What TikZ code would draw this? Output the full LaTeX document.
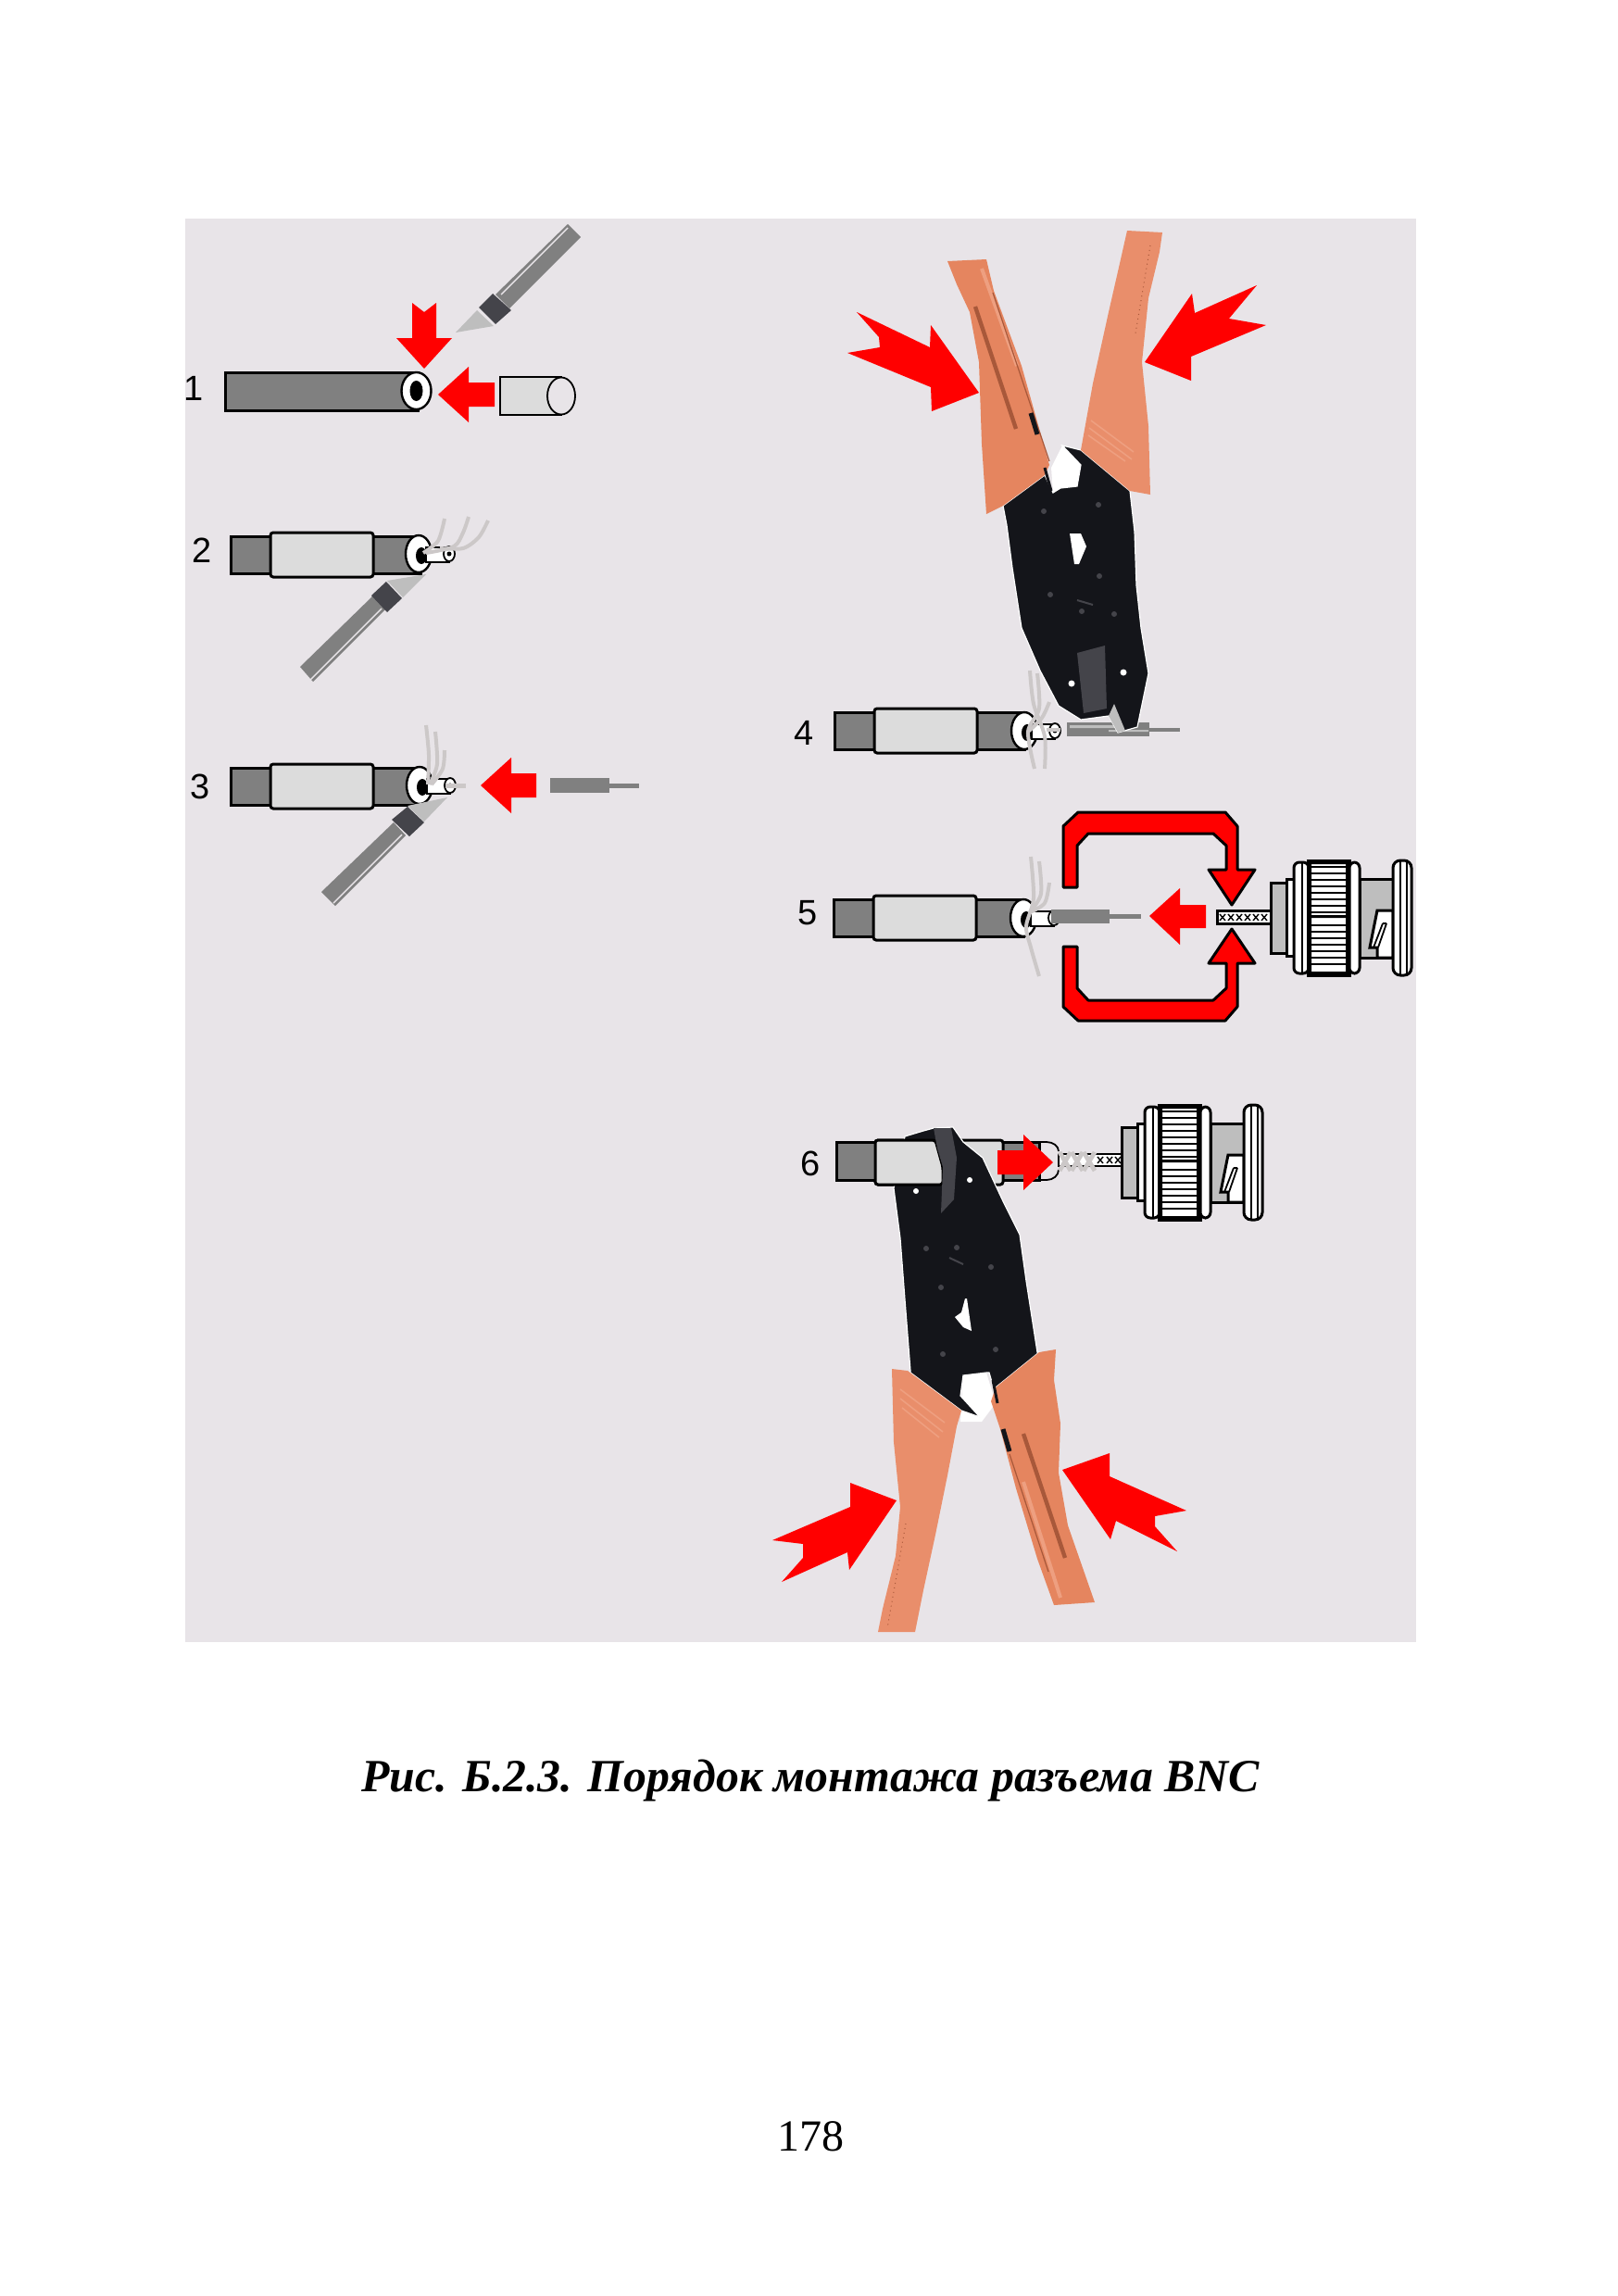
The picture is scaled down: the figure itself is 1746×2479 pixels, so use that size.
\documentclass[tikz,border=0pt]{standalone}
\usepackage{fontspec}
\setmainfont{Liberation Serif}
\newfontfamily\digitfont{Liberation Sans}
\definecolor{panelbg}{HTML}{E8E4E8}
\definecolor{redmark}{HTML}{FF0000}
\definecolor{cablegray}{HTML}{808080}
\definecolor{jacket}{HTML}{DCDCDC}
\definecolor{bladegray}{HTML}{BEBEBE}
\definecolor{collar}{HTML}{44444A}
\definecolor{wiregray}{HTML}{CCC8C8}
\definecolor{plierblack}{HTML}{14151A}
\definecolor{grip}{HTML}{E5855F}
\definecolor{gripb}{HTML}{E98E6B}
\definecolor{gripc}{HTML}{EE9F80}
\definecolor{gripdark}{HTML}{A8583A}
\tikzset{
  outl/.style={draw=black,line width=1.5pt},
  thinl/.style={draw=black,line width=0.9pt},
  redshape/.style={fill=redmark},
  graybar/.style={fill=cablegray},
  wire/.style={draw=wiregray,line width=2pt,line join=round},
  digit/.style={font=\digitfont\fontsize{19}{19}\selectfont,inner sep=0pt},
  handle/.style={fill=cablegray},
  knifecollar/.style={fill=collar},
  knifeblade/.style={fill=bladegray},
  pliers/.style={fill=plierblack,draw=white,line width=0.6pt},
  pliergray/.style={fill=collar},
  halo/.style={fill=white},
  cableparts/.pic={
    \filldraw[outl,fill=cablegray] (0,-20) rectangle (43,20);
    \filldraw[outl,fill=cablegray] (153,-20) rectangle (205,20);
    \filldraw[outl,fill=jacket,rounded corners=1.5pt] (43,-24) rectangle (154,24);
  },
  cableend/.pic={
    \filldraw[thinl,fill=white,line width=1.2pt] (0,0) ellipse [x radius=14,y radius=20];
    \fill[black] (3,2) ellipse [x radius=6,y radius=9];
    \filldraw[thinl,fill=white] (8,-7) rectangle (33,9);
    \filldraw[thinl,fill=white] (33,0) ellipse [x radius=6,y radius=8];
    \fill[black] (33,0) circle [radius=2.5];
  },
  connector/.pic={
    \filldraw[outl,fill=bladegray] (0,-38) rectangle (17,38);
    \filldraw[outl,fill=white] (17,-42) rectangle (25,41);
    \filldraw[outl,fill=bladegray] (96,-42) -- (132,-42) -- (132,43) -- (96,43) -- cycle;
    \filldraw[outl,fill=white] (115,-8) -- (132,-8) -- (132,43) -- (115,43) -- (115,32) -- (107,32) -- cycle;
    \draw[thinl] (125,6) -- (116,32) (121,6) -- (111,32) (121,6) -- (125,6);
    \filldraw[outl,fill=white,rounded corners=3pt] (25,-60) rectangle (41,60);
    \draw[thinl] (34,-60) -- (34,60);
    \filldraw[outl,fill=white] (40,-62) rectangle (85,62);
    \foreach \yy in {-55,-48,-41,-34,-27,-20,-13,-6,8,15,22,29,36,43,50}{
      \draw[black,line width=0.8pt] (40,\yy) -- (85,\yy);
    }
    \fill[black] (40,-62) rectangle (85,-58) (40,-3) rectangle (85,0) (40,58) rectangle (85,62);
    \fill[black] (40,-62) rectangle (44,62) (81,-62) rectangle (85,62);
    \filldraw[outl,fill=white,rounded corners=3pt] (85,-60) rectangle (96,60);
    \filldraw[outl,fill=white,rounded corners=4pt] (132,-62) rectangle (152,62);
    \draw[thinl] (140,-62) -- (140,62) (147,-62) -- (147,62);
  },
  gripbg/.style={fill=grip},
  gripbh/.style={fill=gripb}
}
\begin{document}
\begin{tikzpicture}[x=0.5pt,y=-0.5pt,line join=miter]
\useasboundingbox (0,0) rectangle (1746,2479);
\fill[white] (0,0) rectangle (1746,2479);
\fill[panelbg] (200,236) rectangle (1529,1773);

% ---- step 1
\node[digit] (n1) at (209,419) {1};
\filldraw[outl,fill=cablegray] (243,402) rectangle (451,443);
\filldraw[thinl,fill=white,line width=1.2pt] (449.5,422) ellipse [x radius=16,y radius=20];
\fill[black] (449.5,422) ellipse [x radius=7,y radius=11];
\filldraw[thinl,fill=jacket] (540,407) rectangle (606,448);
\filldraw[thinl,fill=panelbg] (606,427.5) ellipse [x radius=15,y radius=20];
\fill[redshape] (445,327) -- (458,337) -- (471,327) -- (471,365) -- (488,365) -- (458,398) -- (428,365) -- (445,365) -- cycle;
\fill[redshape] (473,426) -- (506,396) -- (506,413) -- (534,413) -- (534,439) -- (506,439) -- (506,456) -- cycle;
\fill[handle] (613,242) -- (627,256) -- (550,333) -- (535,318) -- cycle;
\draw[panelbg,line width=0.7pt] (613,246) -- (541,318);
\fill[knifeblade] (515,335) -- (533,352) -- (492,359) -- cycle;
\fill[knifecollar] (532,317) -- (552,335) -- (535,350) -- (517,332) -- cycle;

% ---- step 2
\node[digit] (n2) at (218,594) {2};
\pic at (249,599) {cableparts};
\pic at (452,598) {cableend};
\draw[wire] plot[smooth] coordinates {(457,597) (473,584) (480,560)};
\draw[wire] plot[smooth] coordinates {(460,597) (490,590) (500,575) (506,558)};
\draw[wire] plot[smooth] coordinates {(475,592) (500,592) (517,580) (527,562)};
\fill[handle] (324,720) -- (338,736) -- (417,657) -- (403,643) -- cycle;
\draw[panelbg,line width=0.7pt] (335,734) -- (412,657);
\fill[knifeblade] (418,627) -- (460,620) -- (435,645) -- cycle;
\fill[knifecollar] (417,628) -- (434,646) -- (418,661) -- (401,643) -- cycle;

% ---- step 3
\node[digit] (n3) at (216,849) {3};
\pic at (249,849) {cableparts};
\pic at (453,848) {cableend};
\draw[wire] plot[smooth] coordinates {(462,847) (463,815) (460,783)};
\draw[wire] plot[smooth] coordinates {(464,847) (472,825) (470,790)};
\draw[wire] plot[smooth] coordinates {(466,847) (478,830) (480,810)};
\draw[wire,line width=2.5pt] (481,848) -- (503,848);
\fill[redshape] (519,848) -- (552,818) -- (552,835) -- (579,835) -- (579,861) -- (552,861) -- (552,878) -- cycle;
\fill[graybar] (594,840) rectangle (658,856);
\fill[graybar] (658,846) rectangle (690,851);
\fill[handle] (347,963) -- (362,978) -- (438,902) -- (425,888) -- cycle;
\draw[panelbg,line width=0.7pt] (360,975) -- (434,901);
\fill[knifeblade] (440,870) -- (483,861) -- (458,887) -- cycle;
\fill[knifecollar] (440,871) -- (458,888) -- (442,903) -- (423,885) -- cycle;

% ---- step 4
\node[digit] (n4) at (868,791) {4};
\pic at (901,789) {cableparts};
\pic at (1106,789) {cableend};
\draw[wire] plot[smooth] coordinates {(1112,724) (1116,760) (1128,795) (1128,830)};
\draw[wire] plot[smooth] coordinates {(1120,727) (1122,765) (1110,790) (1117,830)};
\draw[wire] plot[smooth] coordinates {(1133,758) (1125,775) (1110,790)};
\draw[wire,line width=2pt] (1130,788) -- (1145,788);
\fill[graybar] (1152,780) rectangle (1241,795);
\fill[graybar] (1241,786) rectangle (1274,790);
\fill[bladegray] (1155,783) rectangle (1205,786) (1197,788) rectangle (1240,790);
\fill[halo] (1135,505) -- (1147,481) -- (1167,502) -- (1163,525) -- (1145,527) -- (1137,532) -- cycle;
\filldraw[pliers] (1083,546) -- (1128,513) -- (1137,532) -- (1145,527) -- (1163,525) -- (1167,502) -- (1147,481) -- (1167,486) -- (1220,530) -- (1225,574) -- (1227,632) -- (1232,678) -- (1240,727) -- (1228,785) -- (1207,791) -- (1197,773) -- (1167,777) -- (1143,762) -- (1123,724) -- (1103,678) -- (1093,613) -- (1087,567) -- cycle;
\fill[pliergray] (1163,705) -- (1193,697) -- (1195,765) -- (1170,770) -- cycle;
\fill[bladegray] (1197,773) -- (1207,791) -- (1215,789) -- (1203,760) -- cycle;
\fill[white] (1155,576) -- (1167,576) -- (1173,590) -- (1165,609) -- (1160,609) -- cycle;
\fill[white] (1157,738) circle [radius=3.5] (1213,726) circle [radius=3.5];
\fill[collar] (1187,622) circle [radius=3] (1134,642) circle [radius=3] (1203,663) circle [radius=3] (1168,660) circle [radius=3] (1186,545) circle [radius=3] (1127,552) circle [radius=3];
\draw[collar,line width=1pt] (1163,648) -- (1180,653);
\fill[gripbg] (1023,282) -- (1065,280) -- (1073,314) -- (1103,395) -- (1133,502) -- (1128,513) -- (1083,546) -- (1065,555) -- (1060,479) -- (1057,391) -- (1047,337) -- (1033,307) -- cycle;
\draw[gripc,line width=2pt] (1060,290) -- (1098,395);
\draw[gripdark,line width=2.2pt] (1053,331) -- (1097,463);
\draw[gripdark,line width=0.6pt] (1072,316) -- (1133,498);
\draw[plierblack,line width=2.5pt] (1113,446) -- (1120,469);
\draw[plierblack,line width=1.5pt] (1128,505) -- (1135,530);
\fill[gripbh] (1217,249) -- (1255,251) -- (1252,272) -- (1240,322) -- (1233,391) -- (1240,460) -- (1242,534) -- (1220,530) -- (1167,486) -- (1180,414) -- (1197,337) -- (1210,280) -- cycle;
\draw[gripc,line width=0.8pt] (1175,470) -- (1215,498) (1176,462) -- (1222,496) (1178,454) -- (1224,488);
\draw[gripdark,line width=0.5pt,dotted] (1242,265) -- (1226,360);
\fill[redshape] (925,337) -- (1004,375) -- (1005,351) -- (1057,424) -- (1006,444) -- (1005,418) -- (915,381) -- (950,375) -- (949,364) -- cycle;
\fill[redshape] (1236,391) -- (1287,317) -- (1290,338) -- (1357,308) -- (1327,344) -- (1367,351) -- (1286,385) -- (1286,411) -- cycle;

% ---- step 5
\node[digit] (n5) at (872,986) {5};
\pic at (900,991) {cableparts};
\pic at (1105,991) {cableend};
\draw[wire] plot[smooth] coordinates {(1113,925) (1116,970) (1108,1000) (1113,1023) (1122,1054)};
\draw[wire] plot[smooth] coordinates {(1122,930) (1124,965) (1112,985)};
\draw[wire] plot[smooth] coordinates {(1133,953) (1128,975) (1112,985)};
\fill[graybar] (1135,982) rectangle (1198,997);
\fill[graybar] (1198,987) rectangle (1232,992);
\fill[redshape] (1241,989) -- (1274,959) -- (1274,977) -- (1302,977) -- (1302,1002) -- (1274,1002) -- (1274,1020) -- cycle;
\filldraw[outl,fill=redmark,line join=round] (1148,958) -- (1148,892) -- (1164,877) -- (1323,877) -- (1336,892) -- (1336,939) -- (1355,939) -- (1330,977) -- (1305,939) -- (1324,939) -- (1324,913) -- (1310,900) -- (1175,900) -- (1163,913) -- (1163,958) -- cycle;
\filldraw[outl,fill=redmark,line join=round] (1148,1022) -- (1148,1087) -- (1164,1102) -- (1323,1102) -- (1336,1087) -- (1336,1040) -- (1355,1040) -- (1330,1003) -- (1305,1040) -- (1324,1040) -- (1324,1067) -- (1310,1080) -- (1175,1080) -- (1163,1067) -- (1163,1022) -- cycle;
\filldraw[outl,fill=white] (1314,983) rectangle (1372,997);
\foreach \xx in {1320,1329,1338,1347,1356,1365}{
  \draw[black,line width=0.7pt] (\xx-3,987) -- (\xx+3,994) (\xx-3,994) -- (\xx+3,987);
}
\pic at (1372,991) {connector};

% ---- step 6
\node[digit] (n6) at (875,1256) {6};
\filldraw[outl,fill=cablegray] (903,1233) rectangle (945,1274);
\filldraw[outl,fill=cablegray] (1080,1233) rectangle (1122,1274);
\draw[thinl] (1112,1233) -- (1130,1233) arc[start angle=-90,end angle=0,x radius=13,y radius=10] (1143,1263) arc[start angle=0,end angle=90,x radius=13,y radius=11] -- (1112,1274);
\filldraw[outl,fill=jacket,rounded corners=1.5pt] (945,1231) rectangle (1083,1279);
\filldraw[thinl,fill=white] (1143,1246) rectangle (1211,1259);
\foreach \xx in {1188,1198,1207}{
  \draw[black,line width=0.7pt] (\xx-3,1249) -- (\xx+3,1256) (\xx-3,1256) -- (\xx+3,1249);
}
\foreach \xx in {1150,1163,1176}{
  \draw[wiregray,line width=2.4pt] (\xx-6,1244) -- (\xx+6,1264) (\xx-6,1264) -- (\xx+6,1244);
}
\pic at (1211,1255) {connector};
\fill[halo] (1040,1485) -- (1065,1482) -- (1075,1515) -- (1060,1535) -- (1037,1535) -- cycle;
\filldraw[pliers] (977,1227) -- (997,1221) -- (1008,1218) -- (1029,1217) -- (1040,1233) -- (1061,1250) -- (1083,1297) -- (1101,1333) -- (1108,1383) -- (1120,1460) -- (1122,1460) -- (1075,1498) -- (1077,1513) -- (1068,1482) -- (1065,1482) -- (1040,1485) -- (1037,1507) -- (1058,1530) -- (1038,1523) -- (983,1482) -- (983,1480) -- (977,1403) -- (972,1337) -- (965,1283) -- cycle;
% part of the jacket stays in front of the tool
\filldraw[outl,fill=cablegray] (903,1233) rectangle (945,1274);
\filldraw[outl,fill=jacket,rounded corners=1.5pt] (945,1231) -- (1010,1231) -- (1018,1260) -- (1018,1279) -- (945,1279) -- cycle;
\fill[pliergray] (1008,1218) -- (1027,1218) -- (1033,1250) -- (1030,1295) -- (1016,1310) -- (1018,1260) -- (1012,1240) -- cycle;
\fill[white] (1042,1402) -- (1044,1402) -- (1049,1437) -- (1040,1433) -- (1031,1422) -- (1038,1417) -- cycle;
\fill[white] (989,1286) circle [radius=3] (1047,1274) circle [radius=3];
\fill[collar] (1000,1348) circle [radius=3] (1033,1347) circle [radius=3] (1070,1368) circle [radius=3] (1016,1390) circle [radius=3] (1075,1457) circle [radius=3] (1018,1462) circle [radius=3];
\draw[collar,line width=1pt] (1025,1358) -- (1040,1365);
\fill[gripbh] (963,1478) -- (980,1480) -- (1038,1523) -- (1033,1540) -- (1023,1593) -- (1010,1657) -- (997,1717) -- (988,1762) -- (948,1762) -- (953,1737) -- (967,1680) -- (972,1627) -- (965,1557) -- cycle;
\draw[gripc,line width=0.8pt] (972,1500) -- (1020,1536) (972,1510) -- (1018,1546) (974,1520) -- (1014,1552);
\draw[gripdark,line width=0.5pt,dotted] (978,1645) -- (958,1758);
\fill[gripbg] (1075,1498) -- (1122,1460) -- (1140,1457) -- (1138,1490) -- (1145,1537) -- (1143,1590) -- (1153,1647) -- (1182,1730) -- (1138,1733) -- (1120,1683) -- (1097,1607) -- (1080,1543) -- (1070,1513) -- cycle;
\draw[gripc,line width=2pt] (1105,1600) -- (1145,1725);
\draw[gripdark,line width=2.2pt] (1105,1548) -- (1150,1682);
\draw[gripdark,line width=0.6pt] (1090,1570) -- (1132,1697);
\draw[plierblack,line width=2.5pt] (1083,1543) -- (1090,1567);
\draw[plierblack,line width=1.5pt] (1072,1490) -- (1077,1515);
\fill[redshape] (1077,1242) -- (1105,1242) -- (1105,1225) -- (1137,1255) -- (1105,1285) -- (1105,1268) -- (1077,1268) -- cycle;
\fill[redshape] (968,1620) -- (918,1601) -- (918,1627) -- (834,1663) -- (867,1667) -- (867,1682) -- (844,1708) -- (915,1676) -- (917,1695) -- cycle;
\fill[redshape] (1147,1587) -- (1198,1569) -- (1198,1594) -- (1281,1631) -- (1247,1637) -- (1247,1648) -- (1271,1675) -- (1205,1642) -- (1199,1662) -- cycle;

% ---- caption
\node[anchor=base,inner sep=0pt,font=\bfseries\itshape\fontsize{24.9}{25}\selectfont] (caption) at (875,1934) {Рис. Б.2.3. Порядок монтажа разъема BNC};
\node[anchor=base,inner sep=0pt,font=\fontsize{24}{24}\selectfont] (pagenum) at (875,2322) {178};
\end{tikzpicture}
\end{document}
